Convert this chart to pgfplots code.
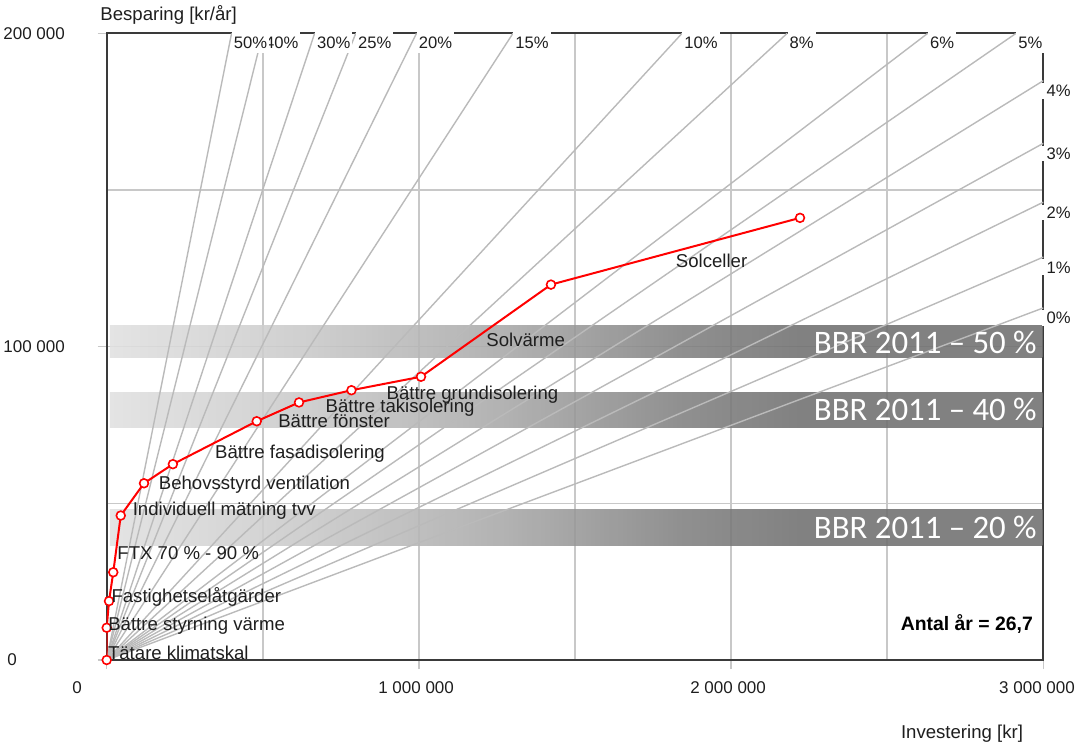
\documentclass[border=0pt]{standalone}
\usepackage{fontspec}
\setmainfont{Liberation Sans}
\newfontfamily\bbrfont{Carlito}
\usepackage{pgfplots}
\pgfplotsset{compat=1.18}
\definecolor{gridgray}{HTML}{C8C8C8}
\definecolor{pctgray}{HTML}{BABABA}
\definecolor{axisdark}{HTML}{3A3A3A}
\definecolor{txt}{HTML}{1E1E1E}
\definecolor{bA}{HTML}{E0E0E0}
\definecolor{bB}{HTML}{CACACA}
\definecolor{bC}{HTML}{A8A8A8}
\definecolor{bD}{HTML}{7F7F7F}
\definecolor{bE}{HTML}{707070}
\pgfdeclarehorizontalshading{bbr}{100bp}{color(0bp)=(bA); color(25bp)=(bA); color(35bp)=(bB); color(46bp)=(bC); color(56bp)=(bD); color(62bp)=(bE); color(100bp)=(bE)}
\tikzset{
  pct/.style={draw=pctgray, line width=0.7pt, mark=none},
  pctlab/.style={fill=white, inner xsep=1pt, inner ysep=2.5pt, yshift=1pt, anchor=north west, text=txt, font=\fontsize{8.3}{9}\selectfont},
  pctlabR/.style={fill=white, inner xsep=2.5pt, inner ysep=1pt, xshift=-1pt, yshift=-1pt, anchor=north west, text=txt, font=\fontsize{8.3}{9}\selectfont},
  lab/.style={anchor=base west, inner sep=0pt, yshift=-8pt, text=txt, font=\fontsize{9.3}{10}\selectfont},
  outer/.style={inner sep=0pt, text=txt, font=\fontsize{8.5}{10}\selectfont},
  title/.style={inner sep=0pt, text=txt, font=\fontsize{9.3}{10}\selectfont},
}
\begin{document}
\begin{tikzpicture}
\path[use as bounding box] (-53.35pt,-45.5pt) rectangle (486.65pt,330pt);
\begin{axis}[
  at={(0pt,0pt)}, anchor=south west,
  scale only axis, width=468.3pt, height=313.35pt,
  xmin=0, xmax=3000000, ymin=0, ymax=200000,
  clip mode=individual,
  axis line style={draw=axisdark, line width=1pt},
  xtick={0,1000000,2000000,3000000},
  ytick={0,100000,200000},
  minor xtick={500000,1500000,2500000},
  minor ytick={50000,150000},
  xticklabels={}, yticklabels={},
  xtick pos=bottom, ytick pos=left,
  tick align=outside,
  major tick length=4.5pt, minor tick length=0pt,
  tick style={draw=gridgray, line width=0.8pt},
  grid=both,
  major grid style={draw=gridgray, line width=0.75pt},
  minor grid style={draw=gridgray, line width=0.75pt},
  scaled ticks=false,
]
% BBR bands
\shade[shading=bbr, opacity=0.88] (axis cs:10000,96400) rectangle (axis cs:2997000,106900);
\shade[shading=bbr, opacity=0.88] (axis cs:10000,74300) rectangle (axis cs:2997000,85500);
\shade[shading=bbr, opacity=0.88] (axis cs:10000,36700) rectangle (axis cs:2997000,47900);

% profitability lines (Antal år = 26,7)
\addplot[pct] coordinates {(0,0) (3000000,112360)};
\addplot[pct] coordinates {(0,0) (3000000,128584)};
\addplot[pct] coordinates {(0,0) (3000000,146111)};
\addplot[pct] coordinates {(0,0) (3000000,164895)};
\addplot[pct] coordinates {(0,0) (3000000,184878)};
\addplot[pct] coordinates {(0,0) (2912800,200000)};
\addplot[pct] coordinates {(0,0) (2629900,200000)};
\addplot[pct] coordinates {(0,0) (2179700,200000)};
\addplot[pct] coordinates {(0,0) (1843000,200000)};
\addplot[pct] coordinates {(0,0) (1301400,200000)};
\addplot[pct] coordinates {(0,0) (992310,200000)};
\addplot[pct] coordinates {(0,0) (797930,200000)};
\addplot[pct] coordinates {(0,0) (666060,200000)};
\addplot[pct] coordinates {(0,0) (499940,200000)};
\addplot[pct] coordinates {(0,0) (399990,200000)};

% percentage labels
\node[pctlabR] at (axis cs:3000000,112360) {0\%};
\node[pctlabR] at (axis cs:3000000,128584) {1\%};
\node[pctlabR] at (axis cs:3000000,146111) {2\%};
\node[pctlabR] at (axis cs:3000000,164895) {3\%};
\node[pctlabR] at (axis cs:3000000,184878) {4\%};
\node[pctlab] at (axis cs:2912800,200000) {5\%};
\node[pctlab] at (axis cs:2629900,200000) {6\%};
\node[pctlab] at (axis cs:2179700,200000) {8\%};
\node[pctlab] at (axis cs:1843000,200000) {10\%};
\node[pctlab] at (axis cs:1301400,200000) {15\%};
\node[pctlab] at (axis cs:992310,200000) {20\%};
\node[pctlab] at (axis cs:797930,200000) {25\%};
\node[pctlab] at (axis cs:666060,200000) {30\%};
\node[pctlab] at (axis cs:499940,200000) {40\%};
\node[pctlab] at (axis cs:399990,200000) {50\%};

% measures curve
\addplot[draw=red, line width=1pt, mark=*, mark size=2.2pt,
  mark options={fill=white, draw=red, line width=0.8pt}] coordinates {
  (0,0) (0,10300) (7400,18800) (21000,28000) (45000,46100) (119500,56400)
  (212000,62500) (480500,76200) (616000,82200) (784000,86100)
  (1006700,90400) (1423000,119800) (2220700,141100)
};

% measure labels (at segment midpoints)
\node[lab] at (axis cs:3000,5150) {Tätare klimatskal};
\node[lab] at (axis cs:3700,14550) {Bättre styrning värme};
\node[lab] at (axis cs:14200,23400) {Fastighetselåtgärder};
\node[lab] at (axis cs:33000,37050) {FTX 70 \% - 90 \%};
\node[lab] at (axis cs:82250,51250) {Individuell mätning tvv};
\node[lab] at (axis cs:165750,59450) {Behovsstyrd ventilation};
\node[lab] at (axis cs:346250,69350) {Bättre fasadisolering};
\node[lab] at (axis cs:548250,79200) {Bättre fönster};
\node[lab] at (axis cs:700000,84150) {Bättre takisolering};
\node[lab] at (axis cs:895350,88250) {Bättre grundisolering};
\node[lab] at (axis cs:1214850,105100) {Solvärme};
\node[lab] at (axis cs:1821850,130450) {Solceller};

% band texts
\node[anchor=east, inner sep=0pt, text=white, font=\bbrfont\fontsize{16.4}{18}\selectfont] at (axis cs:2980000,101300) {BBR 2011 – 50 \%};
\node[anchor=east, inner sep=0pt, text=white, font=\bbrfont\fontsize{16.4}{18}\selectfont] at (axis cs:2980000,79900) {BBR 2011 – 40 \%};
\node[anchor=east, inner sep=0pt, text=white, font=\bbrfont\fontsize{16.4}{18}\selectfont] at (axis cs:2980000,42200) {BBR 2011 – 20 \%};

\node[anchor=east, inner sep=0pt, text=black, font=\bfseries\fontsize{9.7}{11}\selectfont] at (axis cs:2968000,11400) {Antal år = 26,7};

% axis texts
\node[title, anchor=base west] at (axis cs:-21460,204090) {Besparing [kr/år]};
\node[outer, anchor=west] at (axis cs:-332150,200000) {200 000};
\node[outer, anchor=west] at (axis cs:-332150,100000) {100 000};
\node[outer, anchor=center] at (axis cs:-303300,0) {0};
\node[outer, anchor=center] at (axis cs:-95100,-8940) {0};
\node[outer, anchor=center] at (axis cs:991000,-8940) {1 000 000};
\node[outer, anchor=center] at (axis cs:1990400,-8940) {2 000 000};
\node[outer, anchor=center] at (axis cs:2980000,-8940) {3 000 000};
\node[title, anchor=base] at (axis cs:2739600,-25200) {Investering [kr]};
\end{axis}
\end{tikzpicture}
\end{document}
